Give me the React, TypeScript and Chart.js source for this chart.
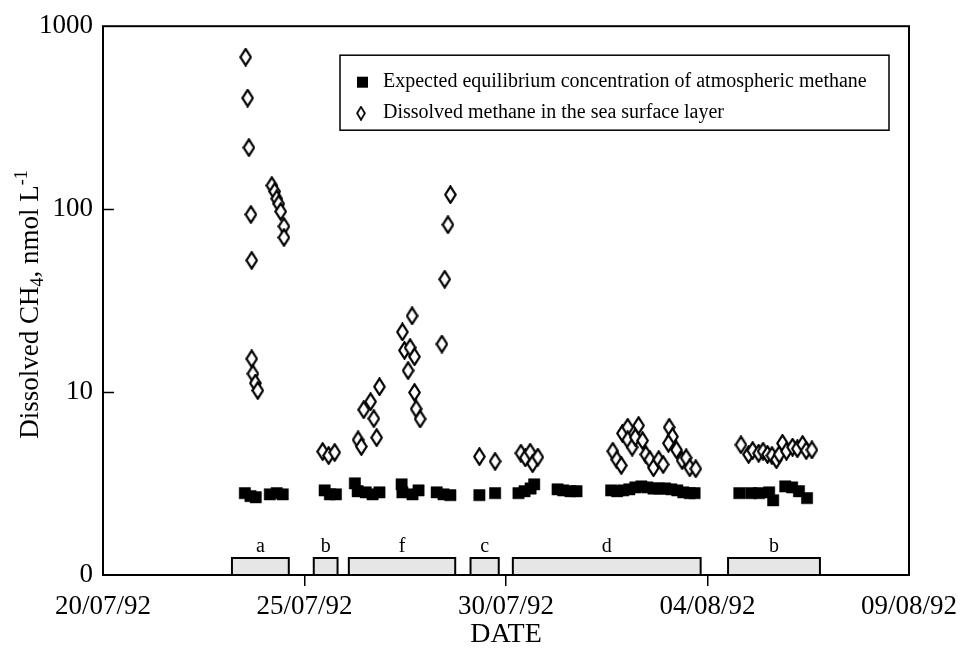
import { useEffect, useRef } from 'react';
import { Chart, registerables } from 'chart.js';

Chart.register(...registerables);

const FONT = "'Liberation Serif', 'Times New Roman', serif";

// x values: days after 20/07/92
const xTickDays = [0, 5, 10, 15, 20];
const xTickLabels = ['20/07/92', '25/07/92', '30/07/92', '04/08/92', '09/08/92'];
const yTickValues = [1, 10, 100, 1000];
const yTickLabels = ['0', '10', '100', '1000'];

const legendLabels = [
  'Expected equilibrium concentration of atmospheric methane',
  'Dissolved methane in the sea surface layer',
];
const yTitleParts = ['Dissolved CH', '4', ', nmol L', '-1'];
const xTitle = 'DATE';

const equilibriumDays = [
  3.52, 3.66, 3.79, 4.14, 4.31, 4.46,
  5.50, 5.63, 5.78,
  6.25, 6.32, 6.52, 6.69, 6.86, 7.41, 7.43, 7.68, 7.83, 8.28, 8.45, 8.62,
  9.34, 9.73,
  10.31, 10.46, 10.61, 10.70, 11.28, 11.42, 11.60, 11.75,
  12.61, 12.76, 12.91, 13.06, 13.21, 13.36, 13.51, 13.66, 13.80, 13.95, 14.10, 14.25, 14.40, 14.56, 14.68,
  15.79, 16.08, 16.28, 16.53, 16.63, 16.93, 17.10, 17.27, 17.47,
];
const equilibriumValues = [
  2.80, 2.70, 2.66, 2.76, 2.80, 2.76,
  2.90, 2.76, 2.76,
  3.17, 2.87, 2.83, 2.76, 2.83, 3.13, 2.83, 2.76, 2.90, 2.83, 2.76, 2.73,
  2.73, 2.80,
  2.80, 2.87, 2.97, 3.13, 2.94, 2.90, 2.87, 2.87,
  2.90, 2.87, 2.90, 2.94, 3.01, 3.05, 3.01, 2.97, 2.97, 2.97, 2.94, 2.90, 2.83, 2.80, 2.80,
  2.80, 2.80, 2.80, 2.83, 2.56, 3.05, 3.01, 2.87, 2.63,
];

const dissolvedDays = [
  3.54, 3.59, 3.62, 3.67, 3.69, 3.69, 3.72, 3.78, 3.84, 4.19, 4.26, 4.31, 4.36, 4.41, 4.49, 4.49,
  5.45, 5.60, 5.75,
  6.33, 6.41, 6.47, 6.64, 6.72, 6.79, 6.86, 7.43, 7.48, 7.57, 7.62, 7.67, 7.73, 7.73, 7.77, 7.87, 8.41, 8.48, 8.56, 8.62,
  9.34, 9.73,
  10.37, 10.48, 10.60, 10.66, 10.79,
  12.65, 12.75, 12.86, 12.89, 13.02, 13.02, 13.13, 13.21, 13.29, 13.39, 13.47, 13.57, 13.66, 13.79, 13.90, 14.05, 14.13, 14.03, 14.23, 14.37, 14.47, 14.56, 14.71,
  15.83, 16.02, 16.12, 16.27, 16.38, 16.49, 16.60, 16.71, 16.78, 16.86, 16.96, 17.11, 17.23, 17.36, 17.45, 17.59,
];
const dissolvedValues = [
  678, 405, 217, 93.5, 52.5, 15.2, 12.6, 11.2, 10.2, 134.6, 124.8, 114, 107, 97, 80.5, 70,
  4.73, 4.50, 4.68,
  5.48, 5.04, 8.01, 8.86, 7.16, 5.64, 10.7, 21.3, 16.9, 13.1, 17.5, 26.1, 15.6, 9.95, 8.09, 7.13, 18.3, 41.4, 82.2, 120,
  4.44, 4.18,
  4.63, 4.37, 4.69, 4.06, 4.41,
  4.75, 4.27, 3.97, 5.95, 6.42, 5.48, 5.00, 5.66, 6.56, 5.43, 4.56, 4.27, 3.86, 4.27, 4.02, 6.42, 5.71, 5.25, 4.83, 4.23, 4.37, 3.86, 3.81,
  5.15, 4.56, 4.79, 4.63, 4.75, 4.56, 4.50, 4.27, 4.56, 5.25, 4.75, 5.00, 4.90, 5.17, 4.79, 4.83,
];

const periodLabels = ['a', 'b', 'f', 'c', 'd', 'b'];
const periodStartDays = [3.20, 5.23, 6.10, 9.12, 10.17, 15.51];
const periodEndDays = [4.61, 5.82, 8.74, 9.82, 14.83, 17.79];
const periodBarTop = 1.24;

function makeDiamond(w: number, h: number, lw: number) {
  const c = document.createElement('canvas');
  c.width = w;
  c.height = h;
  const g = c.getContext('2d')!;
  const m = lw / 2 + 0.2;
  g.beginPath();
  g.moveTo(w / 2, m);
  g.lineTo(w - m, h / 2);
  g.lineTo(w / 2, h - m);
  g.lineTo(m, h / 2);
  g.closePath();
  g.fillStyle = '#fff';
  g.fill();
  g.lineWidth = lw;
  g.strokeStyle = '#000';
  g.stroke();
  return c;
}

export default function App() {
  const ref = useRef<HTMLCanvasElement>(null);

  useEffect(() => {
    const canvas = ref.current;
    if (!canvas) return;
    const diamond = makeDiamond(13, 19, 2.2);
    const legendDiamond = makeDiamond(10, 15, 1.8);

    const decor = {
      id: 'decor',
      afterDraw(chart: any) {
        const { ctx, chartArea: ca, scales } = chart;
        const xs = scales.x;
        const ys = scales.y;
        ctx.save();
        // frame
        ctx.strokeStyle = '#000';
        ctx.lineWidth = 2;
        ctx.strokeRect(ca.left, ca.top, ca.right - ca.left, ca.bottom - ca.top);
        // inward y ticks
        ctx.lineWidth = 1.5;
        yTickValues.forEach((v) => {
          if (v <= ys.min || v >= ys.max) return;
          const py = Math.round(ys.getPixelForValue(v)) + 0.5;
          ctx.beginPath();
          ctx.moveTo(ca.left, py);
          ctx.lineTo(ca.left + 11, py);
          ctx.stroke();
        });
        // period labels
        ctx.fillStyle = '#000';
        ctx.font = `20px ${FONT}`;
        ctx.textAlign = 'center';
        ctx.textBaseline = 'alphabetic';
        const topPx = ys.getPixelForValue(periodBarTop);
        periodLabels.forEach((lab, i) => {
          const cx = (xs.getPixelForValue(periodStartDays[i]) + xs.getPixelForValue(periodEndDays[i])) / 2;
          ctx.fillText(lab, cx, topPx - 6);
        });
        // legend
        const bl = ca.left + 237;
        const bt = ca.top + 29;
        const br = ca.right - 20;
        const bb = ca.top + 104;
        ctx.fillStyle = '#fff';
        ctx.fillRect(bl, bt, br - bl, bb - bt);
        ctx.strokeStyle = '#000';
        ctx.lineWidth = 1.5;
        ctx.strokeRect(bl, bt, br - bl, bb - bt);
        const r1 = bt + 27;
        const r2 = bt + 58;
        ctx.fillStyle = '#000';
        ctx.fillRect(bl + 17, r1 - 5.5, 11, 11);
        ctx.drawImage(legendDiamond, bl + 16, r2 - 7.5);
        ctx.font = `20px ${FONT}`;
        ctx.textAlign = 'left';
        ctx.textBaseline = 'middle';
        ctx.fillText(legendLabels[0], bl + 43, r1);
        ctx.fillText(legendLabels[1], bl + 43, r2);
        // y title with sub/superscript
        ctx.save();
        const cy = (ca.top + ca.bottom) / 2 + 4;
        ctx.translate(38, cy);
        ctx.rotate(-Math.PI / 2);
        ctx.textBaseline = 'alphabetic';
        const big = `27px ${FONT}`;
        const small = `18px ${FONT}`;
        const fonts = [big, small, big, small];
        const shifts = [0, 5, 0, -11];
        let total = 0;
        const widths = yTitleParts.map((t, i) => {
          ctx.font = fonts[i];
          const w = ctx.measureText(t).width;
          total += w;
          return w;
        });
        let x = -total / 2;
        yTitleParts.forEach((t, i) => {
          ctx.font = fonts[i];
          ctx.fillText(t, x, shifts[i]);
          x += widths[i];
        });
        ctx.restore();
        ctx.restore();
      },
    };

    const chart = new Chart(canvas, {
      type: 'line',
      data: {
        datasets: [
          {
            label: legendLabels[0],
            data: equilibriumDays.map((d, i) => ({ x: d, y: equilibriumValues[i] })),
            showLine: false,
            pointStyle: 'rect',
            pointRadius: 8,
            backgroundColor: '#000',
            borderColor: '#000',
            borderWidth: 0.5,
          },
          {
            label: legendLabels[1],
            data: dissolvedDays.map((d, i) => ({ x: d, y: dissolvedValues[i] })),
            showLine: false,
            pointStyle: diamond as any,
            pointRadius: 8,
          },
          ...periodLabels.map((lab, i) => ({
            label: 'period ' + lab,
            data: [
              { x: periodStartDays[i], y: 1 },
              { x: periodStartDays[i], y: periodBarTop },
              { x: periodEndDays[i], y: periodBarTop },
              { x: periodEndDays[i], y: 1 },
            ],
            showLine: true,
            fill: 'start',
            backgroundColor: '#e6e6e6',
            borderColor: '#000',
            borderWidth: 2,
            pointRadius: 0,
            tension: 0,
          })),
        ] as any,
      },
      options: {
        responsive: false,
        animation: false,
        events: [],
        layout: { padding: { top: 24, right: 52, left: 0, bottom: 0 } },
        plugins: { legend: { display: false }, tooltip: { enabled: false } },
        scales: {
          x: {
            type: 'linear',
            min: 0,
            max: 20,
            afterBuildTicks: (s: any) => {
              s.ticks = xTickDays.map((v) => ({ value: v }));
            },
            afterFit: (s: any) => {
              s.height = 79;
            },
            grid: {
              display: true,
              drawOnChartArea: false,
              drawTicks: true,
              tickLength: 11,
              lineWidth: 1.5,
              color: (c: any) =>
                c.tick && (c.tick.value === 0 || c.tick.value === 20) ? 'rgba(0,0,0,0)' : '#000',
            },
            border: { display: false },
            ticks: {
              padding: 5,
              color: '#000',
              maxRotation: 0,
              autoSkip: false,
              font: { family: FONT, size: 27 },
              callback: (v: any) => {
                const i = xTickDays.indexOf(Number(v));
                return i >= 0 ? xTickLabels[i] : '';
              },
            },
            title: {
              display: true,
              text: xTitle,
              color: '#000',
              font: { family: FONT, size: 28 },
              padding: { top: 0, bottom: 3 },
            },
          },
          y: {
            type: 'logarithmic',
            min: 1,
            max: 1000,
            afterBuildTicks: (s: any) => {
              s.ticks = yTickValues.map((v) => ({ value: v }));
            },
            afterFit: (s: any) => {
              s.width = 103;
            },
            grid: { display: false, drawTicks: false },
            border: { display: false },
            ticks: {
              padding: 10,
              color: '#000',
              autoSkip: false,
              font: { family: FONT, size: 27 },
              callback: (v: any) => {
                const i = yTickValues.indexOf(Number(v));
                return i >= 0 ? yTickLabels[i] : '';
              },
            },
          },
        },
      } as any,
      plugins: [decor],
    });
    return () => chart.destroy();
  }, []);

  return (
    <div style={{ position: 'fixed', left: 0, top: 0, width: 962, height: 654, background: '#fff' }}>
      <canvas ref={ref} width={962} height={654} />
    </div>
  );
}
